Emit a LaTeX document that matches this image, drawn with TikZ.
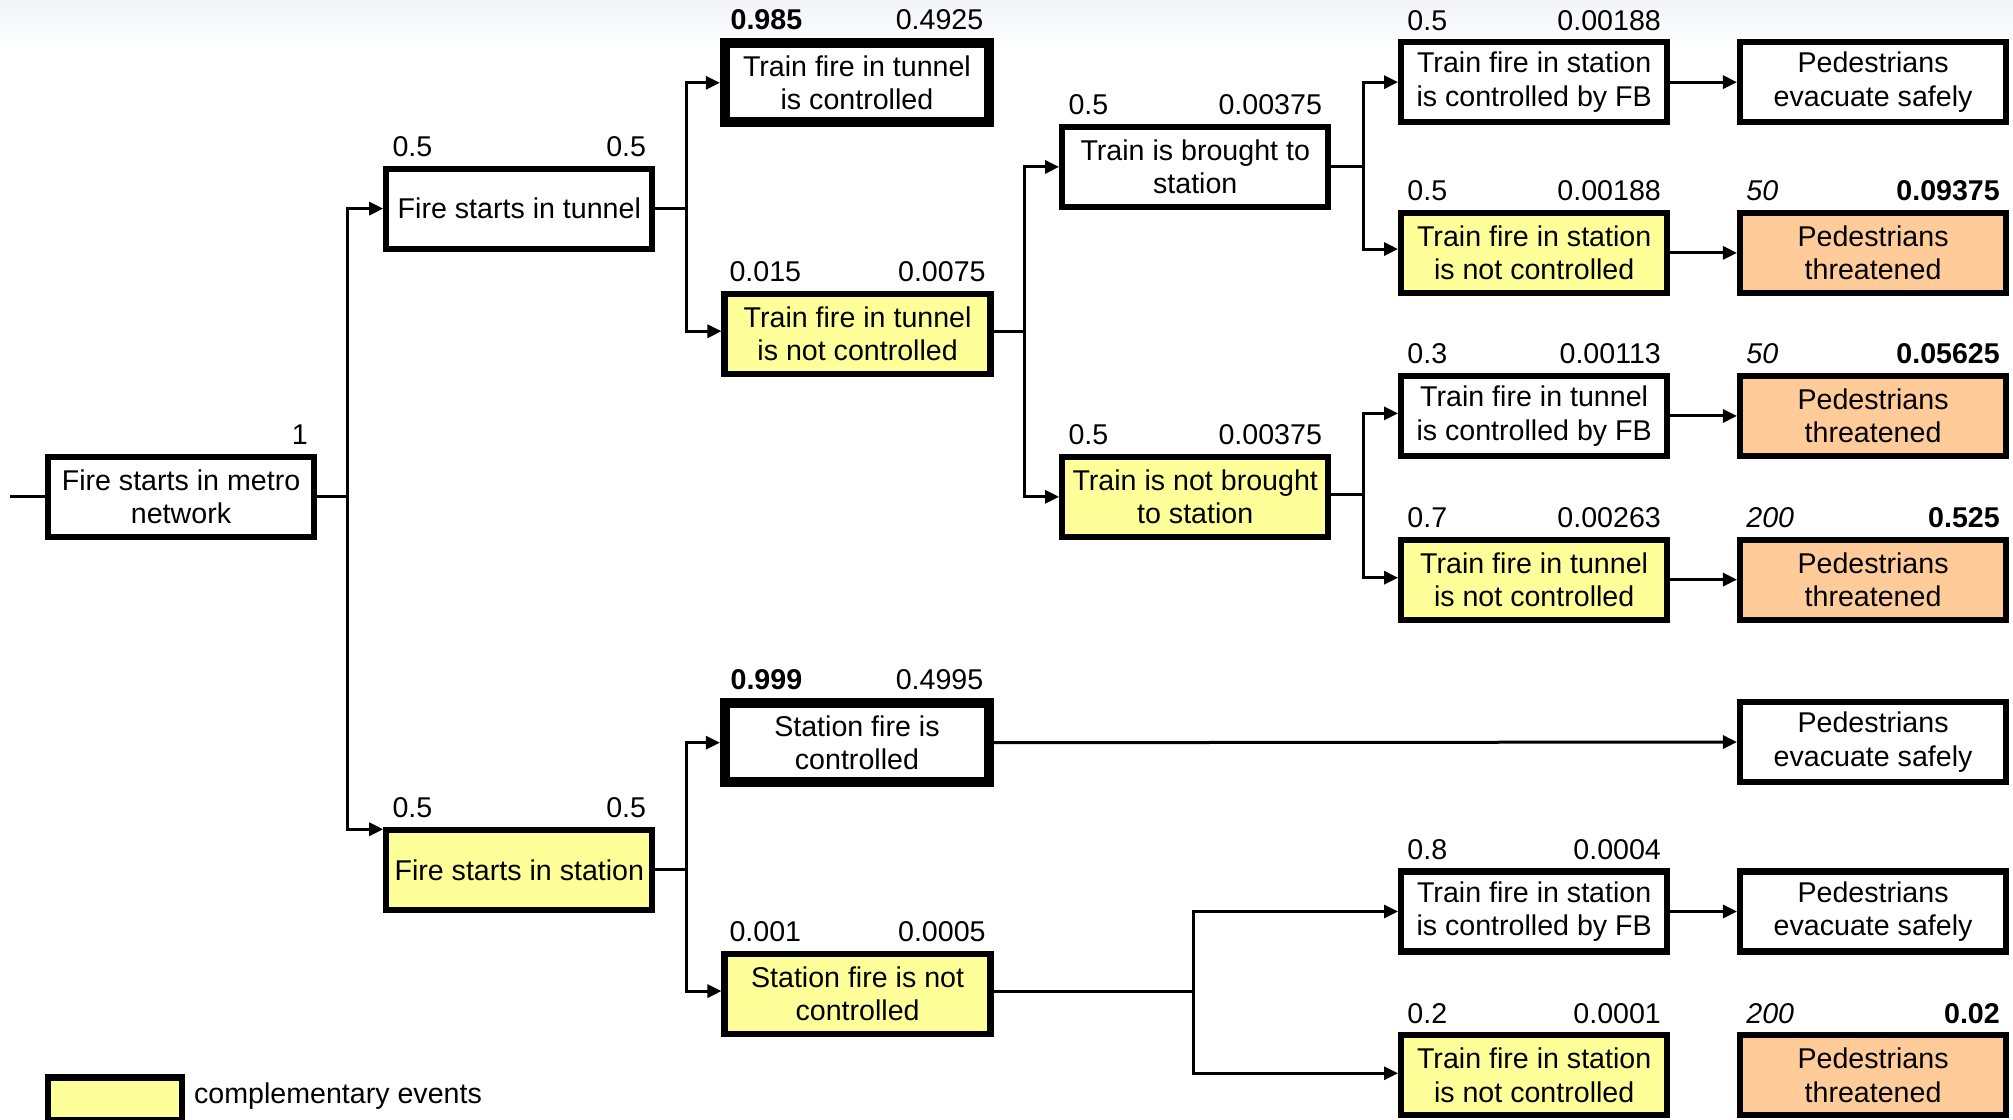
\documentclass[tikz,border=0pt]{standalone}
\usepackage{fontspec}
\setmainfont{Liberation Sans}
\usetikzlibrary{calc,arrows.meta}
\definecolor{compl}{HTML}{FFFF99}
\definecolor{threat}{HTML}{FFCC99}
\definecolor{topbg}{HTML}{F2F4FA}
\newcommand\dfont{\fontsize{14.3pt}{16.7pt}\selectfont}
\begin{document}
\begin{tikzpicture}[x=0.6419pt,y=-0.6419pt,
  box/.style={draw=black, line width=3.1pt, minimum width=133pt, minimum height=40pt,
    inner sep=0pt, align=center, font=\dfont, fill=white},
  thickbox/.style={box, line width=5pt, minimum width=132pt, minimum height=39.5pt},
  yel/.style={box, fill=compl},
  org/.style={box, fill=threat},
  lab/.style={inner sep=0pt, font=\dfont},
  conn/.style={line width=1.5pt},
  arr/.style={conn, -{Triangle[length=7pt,width=6.5pt]}}]
\useasboundingbox (0,0) rectangle (1568,872);
\shade[top color=topbg, bottom color=white, draw=none] (0,0) rectangle (1568,40);

% event boxes
\node[box] (root) at (141,387) {Fire starts in metro\\network};
\node[box] (ft) at (404.5,162.5) {Fire starts in tunnel};
\node[yel] (fs) at (404.5,677.5) {Fire starts in station};
\node[thickbox] (tc) at (667.5,64.5) {Train fire in tunnel\\is controlled};
\node[yel] (tn) at (668,260) {Train fire in tunnel\\is not controlled};
\node[thickbox] (sc) at (667.5,578.5) {Station fire is\\controlled};
\node[yel] (sn) at (668,774) {Station fire is not\\controlled};
\node[box] (bs) at (931,130) {Train is brought to\\station};
\node[yel] (nbs) at (931,387) {Train is not brought\\to station};
\node[box] (a1) at (1195,64) {Train fire in station\\is controlled by FB};
\node[yel] (a2) at (1195,197) {Train fire in station\\is not controlled};
\node[box] (a3) at (1195,324) {Train fire in tunnel\\is controlled by FB};
\node[yel] (a4) at (1195,451.5) {Train fire in tunnel\\is not controlled};
\node[box] (a5) at (1195,710) {Train fire in station\\is controlled by FB};
\node[yel] (a6) at (1195,837.5) {Train fire in station\\is not controlled};

% outcome boxes
\node[box] (o1) at (1459,64) {Pedestrians\\evacuate safely};
\node[org] (o2) at (1459,197) {Pedestrians\\threatened};
\node[org] (o3) at (1459,324) {Pedestrians\\threatened};
\node[org] (o4) at (1459,451.5) {Pedestrians\\threatened};
\node[box] (o5) at (1459,578) {Pedestrians\\evacuate safely};
\node[box] (o6) at (1459,710) {Pedestrians\\evacuate safely};
\node[org] (o7) at (1459,837.5) {Pedestrians\\threatened};

% probability labels
\node[lab, anchor=base east] (rootr) at ($(root.north east)+(-7,-7)$) {1};
\node[lab, anchor=base west] (ftl) at ($(ft.north west)+(7,-7)$) {0.5};
\node[lab, anchor=base east] (ftr) at ($(ft.north east)+(-7,-7)$) {0.5};
\node[lab, anchor=base west] (fsl) at ($(fs.north west)+(7,-7)$) {0.5};
\node[lab, anchor=base east] (fsr) at ($(fs.north east)+(-7,-7)$) {0.5};
\node[lab, anchor=base west] (tcl) at ($(tc.north west)+(8,-7)$) {\bfseries 0.985};
\node[lab, anchor=base east] (tcr) at ($(tc.north east)+(-8,-7)$) {0.4925};
\node[lab, anchor=base west] (tnl) at ($(tn.north west)+(6,-7)$) {0.015};
\node[lab, anchor=base east] (tnr) at ($(tn.north east)+(-6,-7)$) {0.0075};
\node[lab, anchor=base west] (scl) at ($(sc.north west)+(8,-7)$) {\bfseries 0.999};
\node[lab, anchor=base east] (scr) at ($(sc.north east)+(-8,-7)$) {0.4995};
\node[lab, anchor=base west] (snl) at ($(sn.north west)+(6,-7)$) {0.001};
\node[lab, anchor=base east] (snr) at ($(sn.north east)+(-6,-7)$) {0.0005};
\node[lab, anchor=base west] (bsl) at ($(bs.north west)+(7,-7)$) {0.5};
\node[lab, anchor=base east] (bsr) at ($(bs.north east)+(-7,-7)$) {0.00375};
\node[lab, anchor=base west] (nbsl) at ($(nbs.north west)+(7,-7)$) {0.5};
\node[lab, anchor=base east] (nbsr) at ($(nbs.north east)+(-7,-7)$) {0.00375};
\node[lab, anchor=base west] (a1l) at ($(a1.north west)+(7,-7)$) {0.5};
\node[lab, anchor=base east] (a1r) at ($(a1.north east)+(-7,-7)$) {0.00188};
\node[lab, anchor=base west] (a2l) at ($(a2.north west)+(7,-7)$) {0.5};
\node[lab, anchor=base east] (a2r) at ($(a2.north east)+(-7,-7)$) {0.00188};
\node[lab, anchor=base west] (a3l) at ($(a3.north west)+(7,-7)$) {0.3};
\node[lab, anchor=base east] (a3r) at ($(a3.north east)+(-7,-7)$) {0.00113};
\node[lab, anchor=base west] (a4l) at ($(a4.north west)+(7,-7)$) {0.7};
\node[lab, anchor=base east] (a4r) at ($(a4.north east)+(-7,-7)$) {0.00263};
\node[lab, anchor=base west] (a5l) at ($(a5.north west)+(7,-7)$) {0.8};
\node[lab, anchor=base east] (a5r) at ($(a5.north east)+(-7,-7)$) {0.0004};
\node[lab, anchor=base west] (a6l) at ($(a6.north west)+(7,-7)$) {0.2};
\node[lab, anchor=base east] (a6r) at ($(a6.north east)+(-7,-7)$) {0.0001};
\node[lab, anchor=base west] (o2l) at ($(o2.north west)+(7,-7)$) {\itshape 50};
\node[lab, anchor=base east] (o2r) at ($(o2.north east)+(-7,-7)$) {\bfseries 0.09375};
\node[lab, anchor=base west] (o3l) at ($(o3.north west)+(7,-7)$) {\itshape 50};
\node[lab, anchor=base east] (o3r) at ($(o3.north east)+(-7,-7)$) {\bfseries 0.05625};
\node[lab, anchor=base west] (o4l) at ($(o4.north west)+(7,-7)$) {\itshape 200};
\node[lab, anchor=base east] (o4r) at ($(o4.north east)+(-7,-7)$) {\bfseries 0.525};
\node[lab, anchor=base west] (o7l) at ($(o7.north west)+(7,-7)$) {\itshape 200};
\node[lab, anchor=base east] (o7r) at ($(o7.north east)+(-7,-7)$) {\bfseries 0.02};

% trunk positions
\coordinate (start) at (8,387);
\coordinate (t1) at (271,0);
\coordinate (t2) at (535,0);
\coordinate (t3) at (798,0);
\coordinate (t4) at (1062,0);
\coordinate (t5) at (930,0);

% connectors
\draw[conn] (start) -- (root.west);
\draw[conn] (root.east) -- (root.east -| t1);
\draw[arr] (root.east -| t1) |- (ft.west);
\draw[arr] (root.east -| t1) |- ($(fs.north west)+(0,2)$);

\draw[conn] (ft.east) -- (ft.east -| t2);
\draw[arr] (ft.east -| t2) |- (tc.west);
\draw[arr] (ft.east -| t2) |- ($(tn.west)+(0,-2)$);

\draw[conn] (fs.east) -- (fs.east -| t2);
\draw[arr] (fs.east -| t2) |- (sc.west);
\draw[arr] (fs.east -| t2) |- ($(sn.west)+(0,-2)$);

\draw[conn] ($(tn.east)+(0,-2)$) -- ($(tn.east -| t3)+(0,-2)$);
\draw[arr] ($(tn.east -| t3)+(0,-2)$) |- (bs.west);
\draw[arr] ($(tn.east -| t3)+(0,-2)$) |- (nbs.west);

\draw[conn] (bs.east) -- (bs.east -| t4);
\draw[arr] (bs.east -| t4) |- (a1.west);
\draw[arr] (bs.east -| t4) |- ($(a2.west)+(0,-3)$);

\draw[conn] ($(nbs.east)+(0,-2)$) -- ($(nbs.east -| t4)+(0,-2)$);
\draw[arr] ($(nbs.east -| t4)+(0,-2)$) |- ($(a3.west)+(0,-2)$);
\draw[arr] ($(nbs.east -| t4)+(0,-2)$) |- ($(a4.west)+(0,-1.5)$);

\draw[conn] ($(sn.east)+(0,-2)$) -- ($(sn.east -| t5)+(0,-2)$);
\draw[arr] ($(sn.east -| t5)+(0,-2)$) |- (a5.west);
\draw[arr] ($(sn.east -| t5)+(0,-2)$) |- ($(a6.west)+(0,-1.5)$);

\draw[arr] (sc.east) -- (o5.west);
\draw[arr] (a1.east) -- (o1.west);
\draw[arr] (a2.east) -- (o2.west);
\draw[arr] (a3.east) -- (o3.west);
\draw[arr] (a4.east) -- (o4.west);
\draw[arr] (a5.east) -- (o6.west);

% legend
\node[yel, minimum width=66.8pt, minimum height=21.5pt] (leg) at (89.5,856) {};
\node[lab, anchor=west] (legt) at ($(leg.east)+(7,-2)$) {complementary events};
\end{tikzpicture}
\end{document}
